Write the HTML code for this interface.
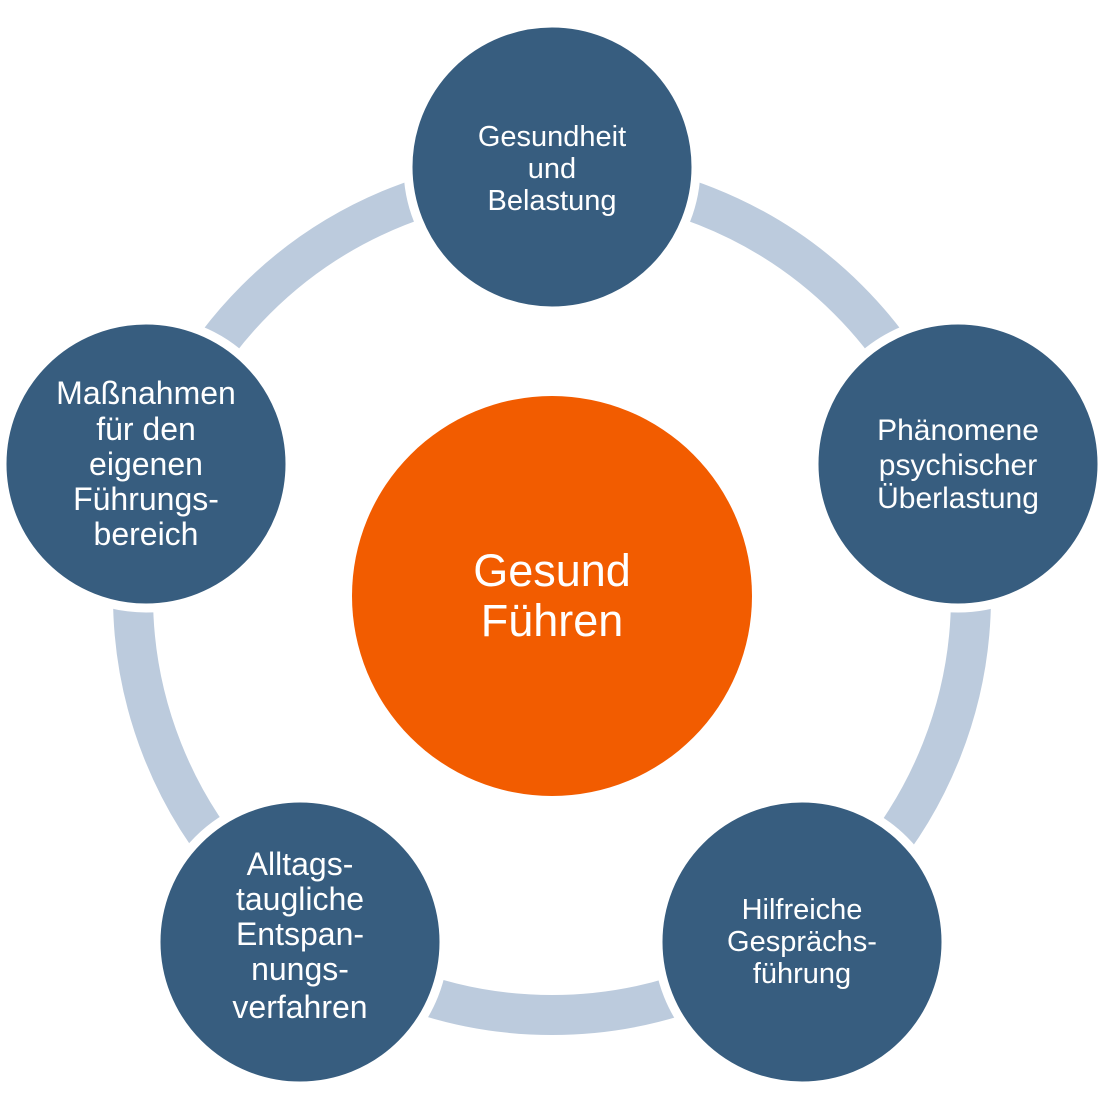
<!DOCTYPE html>
<html><head><style>body{margin:0;background:#fff}</style></head><body>
<svg width="1110" height="1110" viewBox="0 0 1110 1110" xmlns="http://www.w3.org/2000/svg" font-family="Liberation Sans, sans-serif">
<circle cx="552" cy="596" r="419" fill="none" stroke="#BCCBDD" stroke-width="40"/>
<g fill="#375D7F" stroke="#fff" stroke-width="9">
<circle cx="552" cy="167" r="144"/>
<circle cx="958" cy="464" r="144"/>
<circle cx="802" cy="942" r="144"/>
<circle cx="300" cy="942" r="144"/>
<circle cx="146" cy="464" r="144"/>
</g>
<circle cx="552" cy="596" r="200" fill="#F25C00"/>
<g fill="#fff" text-anchor="middle" font-size="29">
<text x="552" y="146">Gesundheit</text><text x="552" y="178">und</text><text x="552" y="210">Belastung</text>
<text x="958" y="440" font-size="30">Phänomene</text><text x="958" y="475" font-size="30">psychischer</text><text x="958" y="508" font-size="30">Überlastung</text>
<text x="802" y="919">Hilfreiche</text><text x="802" y="951">Gesprächs-</text><text x="802" y="983">führung</text>
<text x="300" y="875" font-size="32">Alltags-</text><text x="300" y="910" font-size="32">taugliche</text><text x="300" y="945" font-size="32">Entspan-</text><text x="300" y="980" font-size="32">nungs-</text><text x="300" y="1018" font-size="32">verfahren</text>
<text x="146" y="404" font-size="32">Maßnahmen</text><text x="146" y="440" font-size="32">für den</text><text x="146" y="475" font-size="32">eigenen</text><text x="146" y="510" font-size="32">Führungs-</text><text x="146" y="545" font-size="32">bereich</text>
<text x="552" y="586" font-size="45">Gesund</text><text x="552" y="636" font-size="45">Führen</text>
</g>
</svg>
</body></html>
